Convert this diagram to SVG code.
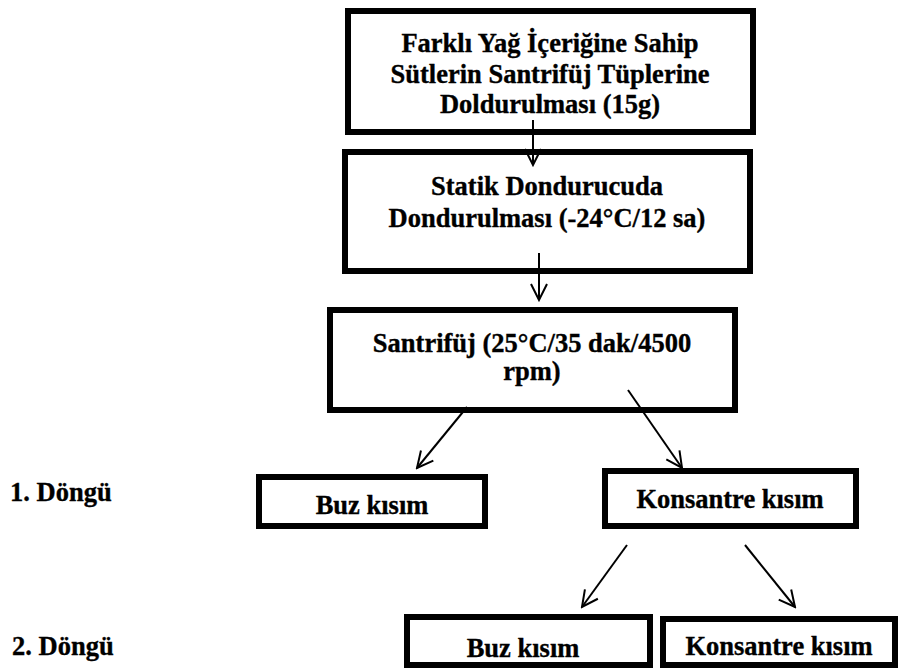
<svg xmlns="http://www.w3.org/2000/svg" width="900" height="668" viewBox="0 0 900 668">
<defs>
<marker id="arr" viewBox="0 0 20 20" refX="18" refY="10" markerWidth="20" markerHeight="20" markerUnits="userSpaceOnUse" orient="auto">
<path d="M2,2 L18,10 L2,18" fill="none" stroke="#000" stroke-width="2"/>
</marker>
<style>
.box{fill:#fff;stroke:#000;stroke-width:6}
.t{font-family:"Liberation Serif","Times New Roman",serif;font-weight:bold;font-size:26.5px;fill:#000;stroke:#000;stroke-width:0.35;text-anchor:middle}
.l{font-family:"Liberation Serif","Times New Roman",serif;font-weight:bold;font-size:26.5px;fill:#000;stroke:#000;stroke-width:0.35}
.c{stroke:#000;stroke-width:2;fill:none;marker-end:url(#arr)}
</style>
</defs>
<rect width="900" height="668" fill="#fff"/>
<g id="n1">
<rect class="box" x="348" y="11" width="405" height="121"/>
<text class="t" x="550" y="52">Farklı Yağ İçeriğine Sahip</text>
<text class="t" x="550" y="83">Sütlerin Santrifüj Tüplerine</text>
<text class="t" x="550" y="113">Doldurulması (15g)</text>
</g>
<g id="n2">
<rect class="box" x="345" y="152" width="405" height="119"/>
<text class="t" x="547" y="195">Statik Dondurucuda</text>
<text class="t" x="547" y="227">Dondurulması (-24°C/12 sa)</text>
</g>
<g id="n3">
<rect class="box" x="330" y="310" width="405" height="100"/>
<text class="t" x="532" y="352">Santrifüj (25°C/35 dak/4500</text>
<text class="t" x="532" y="380">rpm)</text>
</g>
<g id="lbl1"><text class="l" x="10" y="501">1. Döngü</text></g>
<g id="lbl2"><text class="l" x="12" y="655">2. Döngü</text></g>
<g id="n4">
<rect class="box" x="259" y="477" width="226" height="49"/>
<text class="t" x="372" y="514">Buz kısım</text>
</g>
<g id="n5">
<rect class="box" x="605" y="471" width="251" height="55"/>
<text class="t" x="730" y="508">Konsantre kısım</text>
</g>
<g id="n6">
<rect class="box" x="407" y="617" width="243" height="48"/>
<text class="t" x="523" y="657">Buz kısım</text>
</g>
<g id="n7">
<rect class="box" x="663" y="619" width="232" height="46"/>
<text class="t" x="779" y="655">Konsantre kısım</text>
</g>
<g id="connectors">
<line class="c" x1="533" y1="120" x2="533" y2="165"/>
<line class="c" x1="539" y1="253" x2="539" y2="300"/>
<line class="c" x1="467" y1="407" x2="417" y2="468"/>
<line class="c" x1="628" y1="390" x2="682" y2="468"/>
<line class="c" x1="627" y1="545" x2="582" y2="607"/>
<line class="c" x1="745" y1="545" x2="795" y2="607"/>
</g>
</svg>
